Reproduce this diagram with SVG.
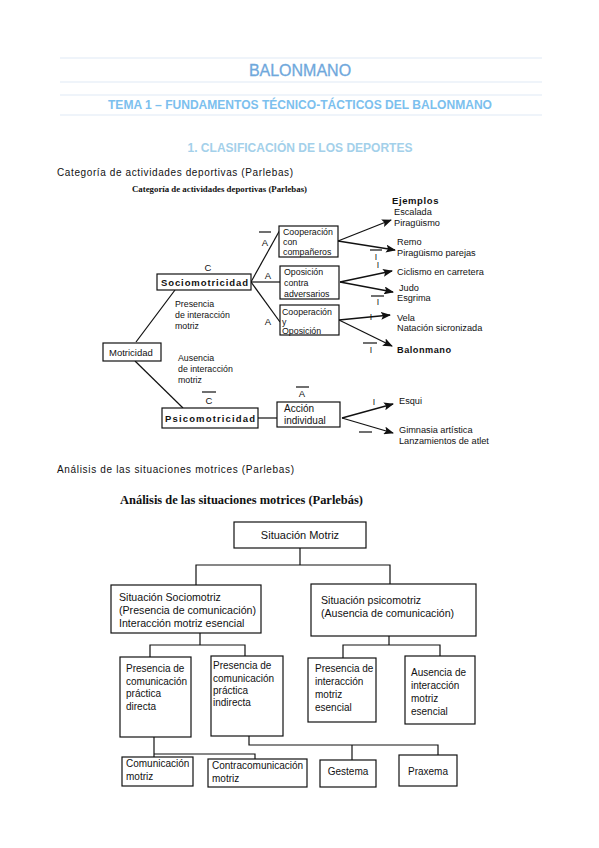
<svg xmlns="http://www.w3.org/2000/svg" width="599" height="848" viewBox="0 0 599 848">
<style>
.hl{stroke:#dfeaf6;stroke-width:1.2}
.t{font-family:"Liberation Sans",Arial,sans-serif;fill:#111}
.s{font-family:"Liberation Serif","Times New Roman",serif;font-weight:bold;fill:#111}
.d1{font-size:8.8px}
.d2{font-size:10px}
.d3{font-size:10.6px}
.b{fill:#fff;stroke:#111;stroke-width:1.2}
.ln{stroke:#111;stroke-width:1.2;fill:none}
.ar{stroke:#111;stroke-width:1.3;fill:none;marker-end:url(#ah)}
</style>
<defs>
<marker id="ah" viewBox="0 0 10 8" refX="9" refY="4" markerWidth="10" markerHeight="8" markerUnits="userSpaceOnUse" orient="auto">
<path d="M0,0 L10,4 L0,8 L2,4 Z" fill="#111"/>
</marker>
</defs>
<rect width="599" height="848" fill="#fff"/>
<g id="header">
<line class="hl" x1="60" y1="58" x2="542" y2="58"/>
<line class="hl" x1="60" y1="82" x2="542" y2="82"/>
<line class="hl" x1="60" y1="95" x2="542" y2="95"/>
<line class="hl" x1="60" y1="115" x2="542" y2="115"/>
<text x="300" y="76" text-anchor="middle" font-family="Liberation Sans,Arial,sans-serif" font-size="16" fill="#6fa8dc" stroke="#6fa8dc" stroke-width="0.3">BALONMANO</text>
<text x="300" y="109" text-anchor="middle" font-family="Liberation Sans,Arial,sans-serif" font-size="12" font-weight="bold" fill="#7cc0ee" textLength="384" lengthAdjust="spacingAndGlyphs">TEMA 1 – FUNDAMENTOS TÉCNICO-TÁCTICOS DEL BALONMANO</text>
<text x="300" y="152" text-anchor="middle" font-family="Liberation Sans,Arial,sans-serif" font-size="12" font-weight="bold" fill="#a3d0ea" textLength="225" lengthAdjust="spacingAndGlyphs">1. CLASIFICACIÓN DE LOS DEPORTES</text>
<text class="t" x="57" y="176" font-size="10" textLength="236" lengthAdjust="spacing">Categoría de actividades deportivas (Parlebas)</text>
<text class="t" x="57" y="473" font-size="10" textLength="237" lengthAdjust="spacing">Análisis de las situaciones motrices (Parlebas)</text>
</g>

<g id="diagram1">
<text class="s" x="132" y="192" font-size="9" textLength="175" lengthAdjust="spacingAndGlyphs">Categoría de actividades deportivas (Parlebas)</text>
<g id="connectors1">
<line class="ln" x1="136" y1="342" x2="175" y2="290"/>
<line class="ln" x1="135" y1="361" x2="183" y2="408"/>
<line class="ln" x1="258" y1="418" x2="277" y2="418"/>
<line class="ln" x1="251" y1="282" x2="281" y2="228"/>
<line class="ln" x1="251" y1="282" x2="281" y2="282"/>
<line class="ln" x1="251" y1="282" x2="280" y2="322"/>
<line class="ar" x1="338" y1="241" x2="391" y2="220"/>
<line class="ar" x1="338" y1="241" x2="395" y2="250"/>
<line class="ar" x1="340" y1="282" x2="392" y2="271"/>
<line class="ar" x1="340" y1="282" x2="393" y2="292"/>
<line class="ar" x1="339" y1="320" x2="390" y2="315"/>
<line class="ar" x1="339" y1="320" x2="392" y2="346"/>
<line class="ar" x1="342" y1="418" x2="393" y2="404"/>
<line class="ar" x1="342" y1="418" x2="393" y2="433"/>
</g>
<g id="n-socio">
<rect class="b" x="157" y="274" width="94" height="16"/>
<text class="t" x="161" y="286" font-size="9.5" font-weight="bold" textLength="87" lengthAdjust="spacing">Sociomotricidad</text>
<text class="t" x="208" y="271" font-size="9.5" text-anchor="middle">C</text>
</g>
<g id="n-motricidad">
<rect class="b" x="103" y="343" width="58" height="18"/>
<text class="t" x="109" y="356" font-size="9.5">Motricidad</text>
</g>
<g id="n-psico">
<rect class="b" x="162" y="408" width="96" height="20"/>
<text class="t" x="165" y="422" font-size="9.5" font-weight="bold" textLength="90" lengthAdjust="spacing">Psicomotricidad</text>
<line class="ln" x1="202" y1="392" x2="216" y2="392"/>
<text class="t" x="209" y="404" font-size="9.5" text-anchor="middle">C</text>
</g>
<g id="n-accion">
<rect class="b" x="277" y="402" width="63" height="25"/>
<text class="t" x="284" y="412" font-size="10">Acción</text>
<text class="t" x="284" y="424" font-size="10">individual</text>
<line class="ln" x1="296" y1="387" x2="309" y2="387"/>
<text class="t" x="302" y="397" font-size="9.5" text-anchor="middle">A</text>
</g>
<g id="labels1" class="t d1">
<text x="175" y="307">Presencia</text>
<text x="175" y="318">de interacción</text>
<text x="175" y="329">motriz</text>
<text x="178" y="361">Ausencia</text>
<text x="178" y="372">de interacción</text>
<text x="178" y="383">motriz</text>
<line class="ln" x1="259" y1="232" x2="271" y2="232"/>
<text x="265" y="246" font-size="9.5" text-anchor="middle">A</text>
<text x="268" y="279" font-size="9.5" text-anchor="middle">A</text>
<text x="268" y="325" font-size="9.5" text-anchor="middle">A</text>
</g>
<g id="n-coop">
<rect class="b" x="279" y="226" width="59" height="31"/>
<text class="t d1" x="283" y="235">Cooperación</text>
<text class="t d1" x="283" y="245">con</text>
<text class="t d1" x="283" y="255">compañeros</text>
</g>
<g id="n-opos">
<rect class="b" x="280" y="266" width="59" height="33"/>
<text class="t d1" x="284" y="275">Oposición</text>
<text class="t d1" x="284" y="286">contra</text>
<text class="t d1" x="284" y="297">adversarios</text>
</g>
<g id="n-coopopos">
<rect class="b" x="280" y="305" width="59" height="30"/>
<text class="t d1" x="282" y="315">Cooperación</text>
<text class="t d1" x="282" y="325">y</text>
<text class="t d1" x="282" y="334">Oposición</text>
</g>
<g id="examples" class="t" font-size="9.2">
<text x="392" y="204" font-size="9.5" font-weight="bold" letter-spacing="0.6">Ejemplos</text>
<text x="394" y="215">Escalada</text>
<text x="394" y="226">Piragüismo</text>
<text x="397" y="245">Remo</text>
<text x="397" y="256">Piragüismo parejas</text>
<text x="397" y="275">Ciclismo en carretera</text>
<text x="399" y="291">Judo</text>
<text x="397" y="301">Esgrima</text>
<text x="397" y="321">Vela</text>
<text x="397" y="331">Natación sicronizada</text>
<text x="397" y="353" font-weight="bold" letter-spacing="0.5">Balonmano</text>
<text x="399" y="404">Esqui</text>
<text x="399" y="433">Gimnasia artística</text>
<text x="399" y="444">Lanzamientos de atlet</text>
</g>
<g id="ilabels" class="t" font-size="8.5">
<line class="ln" x1="370" y1="250" x2="382" y2="250"/>
<text x="376" y="260" text-anchor="middle">I</text>
<text x="378" y="268" text-anchor="middle">I</text>
<line class="ln" x1="371" y1="296" x2="384" y2="296"/>
<text x="378" y="305" text-anchor="middle">I</text>
<text x="371" y="320" text-anchor="middle">I</text>
<line class="ln" x1="363" y1="343" x2="377" y2="343"/>
<text x="371" y="353" text-anchor="middle">I</text>
<text x="374" y="405" text-anchor="middle">I</text>
<line class="ln" x1="359" y1="432" x2="372" y2="432"/>
</g>
</g>

<g id="diagram2">
<text class="s" x="120" y="504" font-size="11.5" textLength="243" lengthAdjust="spacingAndGlyphs">Análisis de las situaciones motrices (Parlebás)</text>
<g id="connectors2">
<polyline class="ln" points="300,548 300,565"/>
<polyline class="ln" points="196,585 196,565 390,565 390,584"/>
<polyline class="ln" points="200,633 200,645"/>
<polyline class="ln" points="150,657 150,645 245,645 245,656"/>
<polyline class="ln" points="389,636 389,645"/>
<polyline class="ln" points="343,658 343,645 440,645 440,656"/>
<polyline class="ln" points="154,737 154,757"/>
<polyline class="ln" points="154,754 255,754 255,759"/>
<polyline class="ln" points="249,736 249,745 438,745 438,755"/>
<polyline class="ln" points="352,745 352,760"/>
</g>
<g id="n-sitmotriz">
<rect class="b" x="234" y="522" width="132" height="26"/>
<text class="t" x="300" y="539" font-size="11" text-anchor="middle">Situación Motriz</text>
</g>
<g id="n-sitsocio">
<rect class="b" x="111" y="585" width="150" height="48"/>
<text class="t d3" x="119" y="601">Situación Sociomotriz</text>
<text class="t d3" x="119" y="614" textLength="137" lengthAdjust="spacingAndGlyphs">(Presencia de comunicación)</text>
<text class="t d3" x="119" y="627">Interacción motriz esencial</text>
</g>
<g id="n-sitpsico">
<rect class="b" x="311" y="584" width="165" height="52"/>
<text class="t d3" x="321" y="604">Situación psicomotriz</text>
<text class="t d3" x="321" y="617">(Ausencia de comunicación)</text>
</g>
<g id="n-directa">
<rect class="b" x="120" y="657" width="71" height="80"/>
<text class="t d2" x="126" y="672">Presencia de</text>
<text class="t d2" x="126" y="685">comunicación</text>
<text class="t d2" x="126" y="697">práctica</text>
<text class="t d2" x="126" y="710">directa</text>
</g>
<g id="n-indirecta">
<rect class="b" x="211" y="656" width="72" height="80"/>
<text class="t d2" x="213" y="669">Presencia de</text>
<text class="t d2" x="213" y="682">comunicación</text>
<text class="t d2" x="213" y="694">práctica</text>
<text class="t d2" x="213" y="706"> indirecta</text>
</g>
<g id="n-presint">
<rect class="b" x="308" y="658" width="68" height="64"/>
<text class="t d2" x="315" y="672">Presencia de</text>
<text class="t d2" x="315" y="685">interacción</text>
<text class="t d2" x="315" y="698">motriz</text>
<text class="t d2" x="315" y="711">esencial</text>
</g>
<g id="n-ausint">
<rect class="b" x="405" y="656" width="70" height="68"/>
<text class="t d2" x="411" y="676">Ausencia de</text>
<text class="t d2" x="411" y="689">interacción</text>
<text class="t d2" x="411" y="702">motriz</text>
<text class="t d2" x="411" y="715">esencial</text>
</g>
<g id="n-com">
<rect class="b" x="122" y="757" width="71" height="29"/>
<text class="t d2" x="126" y="767">Comunicación</text>
<text class="t d2" x="126" y="780">motriz</text>
</g>
<g id="n-contra">
<rect class="b" x="208" y="759" width="99" height="28"/>
<text class="t d2" x="212" y="769">Contracomunicación</text>
<text class="t d2" x="212" y="782">motriz</text>
</g>
<g id="n-gestema">
<rect class="b" x="320" y="760" width="56" height="27"/>
<text class="t d2" x="348" y="775" text-anchor="middle">Gestema</text>
</g>
<g id="n-praxema">
<rect class="b" x="399" y="755" width="58" height="31"/>
<text class="t d2" x="428" y="775" text-anchor="middle">Praxema</text>
</g>
</g>
</svg>
